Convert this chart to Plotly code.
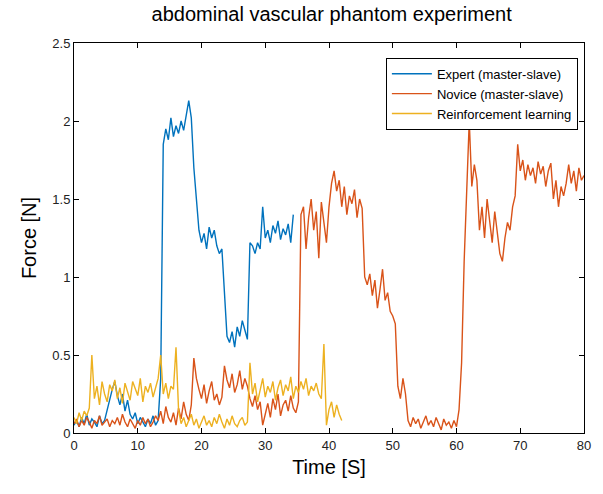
import numpy as np
import plotly.graph_objects as go

dt = 0.4

expert = [0.05,0.08,0.04,0.10,0.06,0.12,0.05,0.09,0.07,0.04,0.11,0.06,0.08,
          0.15,0.22,0.28,0.33,0.24,
          0.18,0.25,0.14,0.21,0.12,
          0.09,0.13,0.06,0.10,0.07,0.04,0.09,0.06,0.11,0.05,0.08,
          0.35,1.85,
          1.95,1.88,2.02,1.90,1.97,1.92,2.00,1.94,
          2.05,2.13,2.02,1.70,1.50,1.30,
          1.22,1.28,1.18,1.32,1.25,1.30,1.20,1.15,1.18,
          0.90,
          0.62,0.58,0.65,0.55,0.68,0.62,0.72,0.66,
          0.60,1.22,
          1.20,1.15,1.22,1.18,
          1.45,
          1.25,1.30,1.22,1.33,1.28,1.36,1.24,1.31,1.27,1.34,1.22,1.40]

novice = [0.06,0.09,0.04,0.08,0.05,0.10,0.07,0.03,0.08,0.06,0.11,0.05,0.07,0.09,0.04,0.08,0.06,
          0.10,0.05,0.12,0.07,0.04,0.09,0.06,0.03,0.08,0.05,0.10,0.06,0.09,0.04,0.07,0.11,
          0.08,0.14,0.06,0.17,0.10,0.07,0.13,0.05,0.16,0.09,0.20,0.12,0.08,0.18,
          0.48,
          0.35,0.28,0.22,0.31,0.19,0.27,0.33,0.21,0.25,0.18,0.23,
          0.43,
          0.34,0.29,0.38,0.26,0.31,0.40,0.28,0.35,0.30,
          0.22,0.17,0.24,0.15,0.20,
          0.05,
          0.12,0.19,0.10,0.22,0.15,0.25,0.11,0.18,0.21,0.14,0.24,0.16,0.13,0.20,
          1.40,
          1.45,1.18,1.38,1.50,1.30,1.42,1.12,1.48,1.35,1.22,1.45,
          1.60,1.68,1.55,
          1.62,1.45,1.58,1.40,1.52,1.47,1.56,1.38,1.50,1.44,
          1.00,
          0.95,1.02,0.88,0.98,0.80,0.92,1.05,0.85,0.90,0.78,
          0.75,0.70,
          0.30,
          0.22,0.35,0.25,
          0.08,0.04,0.10,0.06,0.09,0.03,0.07,0.11,0.05,0.08,0.04,0.10,0.06,0.02,0.09,0.05,0.07,0.03,0.08,0.04,
          0.15,0.45,1.10,1.60,2.00,
          1.58,1.72,1.62,
          1.30,1.45,1.25,1.50,1.35,1.22,1.42,1.28,
          1.15,1.10,
          1.25,1.35,1.30,1.45,1.52,
          1.85,
          1.68,1.75,1.62,1.72,1.65,1.70,1.60,1.74,1.66,1.71,1.58,1.68,1.73,
          1.50,1.62,1.45,1.58,1.52,1.60,
          1.72,1.60,1.68,1.55,1.70,1.62,1.65]

rl = [0.10,0.06,0.13,0.08,0.14,0.11,0.16,
      0.50,
      0.22,0.30,0.18,0.33,0.25,0.20,0.31,0.27,0.34,0.22,0.29,0.19,0.32,0.26,0.21,0.33,0.28,0.24,0.35,0.20,0.30,0.26,0.32,0.23,0.29,0.35,
      0.50,
      0.25,0.32,0.22,0.30,0.28,
      0.55,0.15,
      0.06,0.10,0.04,0.08,0.12,0.05,0.09,0.03,0.07,0.11,0.05,0.08,0.04,0.10,0.06,0.12,0.07,0.03,0.09,0.05,0.11,0.06,0.04,0.08,0.10,0.05,0.07,
      0.45,
      0.25,0.32,0.20,0.28,0.35,0.23,0.30,0.26,0.33,0.21,0.29,0.34,0.24,0.31,0.27,0.36,0.22,0.30,0.26,0.33,0.28,0.35,0.24,0.30,0.27,0.32,0.25,0.22,
      0.57,0.05,
      0.15,0.20,0.10,0.18,0.12,0.08]

names = ["Expert (master-slave)", "Novice (master-slave)", "Reinforcement learning"]
colors = ["#0072BD", "#D95319", "#EDB120"]
x_ticks = [0, 10, 20, 30, 40, 50, 60, 70, 80]
y_ticks = [0, 0.5, 1, 1.5, 2, 2.5]
y_tick_labels = ["0", "0.5", "1", "1.5", "2", "2.5"]

FONT = "Liberation Sans, Arial, sans-serif"

fig = go.Figure()
for name, vals, col in zip(names, [expert, novice, rl], colors):
    t = np.arange(len(vals)) * dt
    fig.add_trace(go.Scatter(x=t, y=vals, mode="lines", name=name,
                             line=dict(color=col, width=1.4)))

axis_common = dict(showline=True, linecolor="black", linewidth=1, mirror="ticks",
                   ticks="inside", ticklen=5, tickcolor="black", showgrid=False,
                   zeroline=False, tickfont=dict(family=FONT, size=13, color="#222"))

fig.update_layout(
    width=603, height=494,
    margin=dict(l=74, r=16, t=43, b=61),
    paper_bgcolor="white", plot_bgcolor="white",
    title=dict(text="abdominal vascular phantom experiment", x=0.55, xanchor="center",
               y=0.972, yanchor="middle", font=dict(family=FONT, size=20, color="black")),
    xaxis=dict(range=[0, 80], tickvals=x_ticks,
               title=dict(text="Time [S]", font=dict(family=FONT, size=20, color="black"), standoff=8),
               **axis_common),
    yaxis=dict(range=[0, 2.5], tickvals=y_ticks, ticktext=y_tick_labels,
               title=dict(text="Force [N]", font=dict(family=FONT, size=20, color="black"), standoff=10),
               **axis_common),
    legend=dict(x=0.988, y=0.962, xanchor="right", yanchor="top",
                bgcolor="white", bordercolor="black", borderwidth=1,
                font=dict(family=FONT, size=13, color="black"),
                tracegroupgap=0, itemwidth=40),
    showlegend=True,
)

fig.write_html("out.html")
